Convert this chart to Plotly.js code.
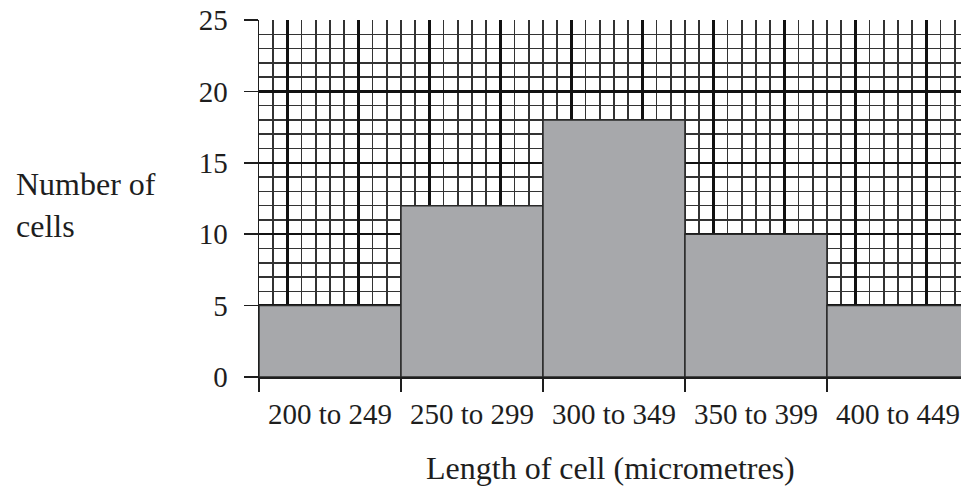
<!DOCTYPE html>
<html>
<head>
<meta charset="utf-8">
<script src="https://cdn.plot.ly/plotly-3.0.1.min.js"></script>
<style>html,body{margin:0;padding:0;background:#fff;}#chart{width:961px;height:490px;}</style>
</head>
<body>
<div id="chart"></div>
<script>
// Data
const categories = ['200 to 249', '250 to 299', '300 to 349', '350 to 399', '400 to 449'];
const counts = [5, 12, 18, 10, 5];
const yTickValues = [0, 5, 10, 15, 20, 25];
const xTitle = 'Length of cell (micrometres)';
const yTitle = 'Number of<br>cells';

const FONT = 'Liberation Serif';
const INK = '#1e1e1e';
const GRID_MINOR = '#333333';
const GRID_MAJOR = '#111111';

// numeric grid axis: 10 minor cells per category
const cellsPerBar = 10;
const gridRange = [0, 49.44];
const boundaryTicks = categories.map((c, i) => i * cellsPerBar);

const bars = {
  type: 'bar',
  x: categories,
  y: counts,
  xaxis: 'x2',
  yaxis: 'y',
  width: 1,
  marker: {color: '#a7a8ab', line: {color: '#2a2a2a', width: 1.5}},
  hoverinfo: 'skip'
};
// empty helper traces so the grid axes get drawn
const gridHelper1 = {type: 'scatter', mode: 'markers', x: [], y: [], xaxis: 'x', yaxis: 'y', hoverinfo: 'skip'};
const gridHelper3 = {type: 'scatter', mode: 'markers', x: [], y: [], xaxis: 'x3', yaxis: 'y', hoverinfo: 'skip'};

const layout = {
  width: 961,
  height: 490,
  margin: {l: 259, r: 0, t: 20, b: 113},
  paper_bgcolor: '#fff',
  plot_bgcolor: '#fff',
  showlegend: false,
  bargap: 0,
  font: {family: FONT, color: INK, size: 28},
  xaxis: {
    type: 'linear',
    range: gridRange,
    autorange: false,
    tickmode: 'array',
    tickvals: boundaryTicks,
    ticks: 'outside',
    ticklen: 13,
    tickwidth: 1.5,
    tickcolor: INK,
    showticklabels: false,
    showgrid: true,
    gridcolor: GRID_MINOR,
    gridwidth: 1.5,
    zeroline: false,
    showline: true,
    linecolor: INK,
    linewidth: 1.5,
    minor: {dtick: 1, tick0: 0, showgrid: true, gridcolor: GRID_MINOR, gridwidth: 1.5, ticks: ''},
    fixedrange: true
  },
  xaxis3: {
    type: 'linear',
    overlaying: 'x',
    range: gridRange,
    autorange: false,
    tick0: 2,
    dtick: 5,
    ticks: '',
    showticklabels: false,
    showgrid: true,
    gridcolor: GRID_MAJOR,
    gridwidth: 2.4,
    zeroline: false,
    showline: false
  },
  xaxis2: {
    type: 'category',
    overlaying: 'x',
    side: 'bottom',
    range: [-0.5, gridRange[1] / cellsPerBar - 0.5],
    autorange: false,
    ticks: '',
    showgrid: false,
    zeroline: false,
    showline: false,
    tickfont: {family: FONT, size: 29, color: INK},
    ticklabelstandoff: 17
  },
  yaxis: {
    range: [0, 25],
    autorange: false,
    tickmode: 'array',
    tickvals: yTickValues,
    ticks: 'outside',
    ticklen: 14,
    tickwidth: 1.5,
    tickcolor: INK,
    tickfont: {family: FONT, size: 29, color: INK},
    ticklabelstandoff: 10,
    showgrid: true,
    gridcolor: GRID_MAJOR,
    gridwidth: 2.4,
    zeroline: false,
    showline: true,
    linecolor: INK,
    linewidth: 1.5,
    minor: {dtick: 1, tick0: 0, showgrid: true, gridcolor: GRID_MINOR, gridwidth: 1.5, ticks: ''},
    fixedrange: true
  },
  annotations: [
    {
      text: yTitle, xref: 'paper', yref: 'paper', x: -0.349, y: 0.482,
      xanchor: 'left', yanchor: 'middle', align: 'left', showarrow: false,
      font: {family: FONT, size: 32, color: INK}
    },
    {
      text: xTitle, xref: 'paper', yref: 'paper', x: 0.5, y: -0.255,
      xanchor: 'center', yanchor: 'middle', showarrow: false,
      font: {family: FONT, size: 32, color: INK}
    }
  ]
};

Plotly.newPlot('chart', [gridHelper1, gridHelper3, bars], layout, {displayModeBar: false, staticPlot: true});
</script>
</body>
</html>
